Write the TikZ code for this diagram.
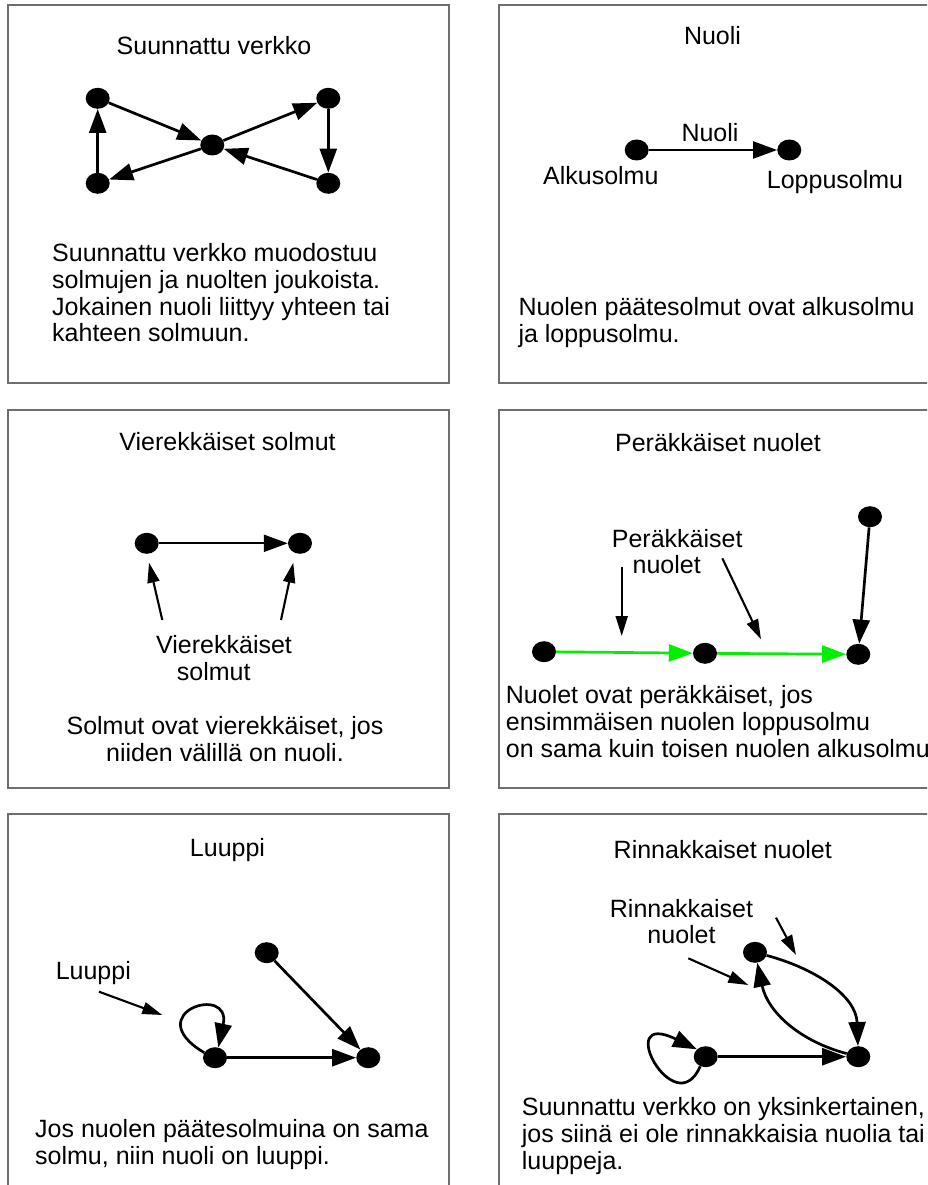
\documentclass[tikz,border=0pt]{standalone}
\usepackage{fontspec}
\setmainfont{Liberation Sans}
\usetikzlibrary{arrows.meta,shapes.geometric}
\definecolor{arcgreen}{RGB}{0,240,0}
\definecolor{framegray}{RGB}{110,110,110}
\begin{document}
\begin{tikzpicture}[x=1pt,y=-1pt,
  every node/.style={font=\fontsize{25}{26.8}\selectfont},
  vertex/.style={ellipse,fill=black,inner sep=0pt,minimum width=24pt,minimum height=21pt},
  panel/.style={draw=framegray,line width=1.3pt},
  arc/.style={line width=2.7pt,-{Triangle[length=24pt,width=17pt]}},
  greenarc/.style={arc,color=arcgreen},
  pointer/.style={line width=2.1pt,-{Triangle[length=20pt,width=12pt]}},
  title/.style={anchor=base,inner sep=0pt},
  body/.style={anchor=north west,align=left,inner sep=0pt},
  cbody/.style={anchor=north,align=center,inner sep=0pt},
  lbl/.style={anchor=base,inner sep=0pt}
]
\useasboundingbox (0,0) rectangle (927,1185);
\clip (0,0) rectangle (927,1185);
\fill[white] (0,0) rectangle (927,1185);

% ---------- frames ----------
\draw[panel] (8,5) rectangle (449,383);
\draw[panel] (499,5) rectangle (945,383);
\draw[panel] (8,410) rectangle (449,788);
\draw[panel] (499,410) rectangle (945,788);
\draw[panel] (8,814) rectangle (449,1200);
\draw[panel] (499,814) rectangle (945,1200);

% ---------- Suunnattu verkko ----------
\node[title] (t1) at (214,55) {Suunnattu verkko};
\node[vertex] (a1) at (97.7,98.3) {};
\node[vertex] (b1) at (97.7,183.3) {};
\node[vertex] (c1) at (212.3,145) {};
\node[vertex] (d1) at (328.3,98.3) {};
\node[vertex] (e1) at (328.3,183.3) {};
\draw[arc] (a1) -- (c1);
\draw[arc] (c1) -- (d1);
\draw[arc] (d1) -- (e1);
\draw[arc] (e1) -- (c1);
\draw[arc] (c1) -- (b1);
\draw[arc] (b1) -- (a1);
\node[body] (x1) at (52,243.1) {Suunnattu verkko muodostuu\\solmujen ja nuolten joukoista.\\Jokainen nuoli liittyy yhteen tai\\kahteen solmuun.};

% ---------- Nuoli ----------
\node[title] (t2) at (712.5,44.5) {Nuoli};
\node[vertex] (a2) at (636.7,150) {};
\node[vertex] (b2) at (789.3,150) {};
\draw[arc,line width=2.2pt] (a2) -- (b2);
\node[lbl] (l2) at (710,141.7) {Nuoli};
\node[lbl] (l2a) at (600.8,185) {Alkusolmu};
\node[lbl] (l2b) at (835,189) {Loppusolmu};
\node[body] (x2) at (518.3,297.1) {Nuolen päätesolmut ovat alkusolmu\\ja loppusolmu.};

% ---------- Vierekkäiset solmut ----------
\node[title] (t3) at (227.5,450) {Vierekkäiset solmut};
\node[vertex] (a3) at (146.7,543.3) {};
\node[vertex] (b3) at (300,543.3) {};
\draw[arc,line width=2.2pt] (a3) -- (b3);
\node[body] (l3) at (156,635.4) {Vierekkäiset\\\hspace*{20.7pt}solmut};
\coordinate (p3a) at (162.3,620);
\coordinate (q3a) at (149,562.7);
\coordinate (p3b) at (281,620);
\coordinate (q3b) at (293.3,562.7);
\draw[pointer] (p3a) -- (q3a);
\draw[pointer] (p3b) -- (q3b);
\node[cbody] (x3) at (225,716.4) {Solmut ovat vierekkäiset, jos\\niiden välillä on nuoli.};

% ---------- Peräkkäiset nuolet ----------
\node[title] (t4) at (718,451) {Peräkkäiset nuolet};
\node[vertex] (a4) at (544,651.7) {};
\node[vertex] (b4) at (705,653.3) {};
\node[vertex] (c4) at (858.3,654.3) {};
\node[vertex] (d4) at (870,516.7) {};
\draw[greenarc] (a4) -- (b4);
\draw[greenarc] (b4) -- (c4);
\draw[arc] (d4) -- (c4);
\node[body] (l4) at (611.7,528.8) {Peräkkäiset\\\hspace*{20.7pt}nuolet};
\coordinate (p4a) at (621.7,566.7);
\coordinate (q4a) at (621.7,636);
\coordinate (p4b) at (722.3,558.3);
\coordinate (q4b) at (761,639.3);
\draw[pointer] (p4a) -- (q4a);
\draw[pointer] (p4b) -- (q4b);
\node[body] (x4) at (505.7,685.4) {Nuolet ovat peräkkäiset, jos\\ensimmäisen nuolen loppusolmu\\on sama kuin toisen nuolen alkusolmu};

% ---------- Luuppi ----------
\node[title] (t5) at (227.5,856.7) {Luuppi};
\node[vertex] (a5) at (215,1057.7) {};
\node[vertex] (b5) at (368.3,1057.7) {};
\node[vertex] (c5) at (266.7,952.7) {};
\draw[arc] (a5) -- (b5);
\draw[arc] (c5) -- (b5);
\draw[arc] (a5.155) .. controls (138,1013) and (232,983) .. (a5.72);
\node[lbl] (l5) at (93.3,979) {Luuppi};
\coordinate (p5) at (99,991.7);
\coordinate (q5) at (162.3,1015);
\draw[pointer] (p5) -- (q5);
\node[body] (x5) at (35,1119.1) {Jos nuolen päätesolmuina on sama\\solmu, niin nuoli on luuppi.};

% ---------- Rinnakkaiset nuolet ----------
\node[title] (t6) at (722.8,858.3) {Rinnakkaiset nuolet};
\node[vertex] (a6) at (755,952.3) {};
\node[vertex] (b6) at (705.7,1056.7) {};
\node[vertex] (c6) at (858.3,1056.7) {};
\draw[arc] (b6) -- (c6);
\draw[arc] (a6) to[out=-15,in=92] (c6);
\draw[arc] (c6) to[out=165,in=-78] (a6);
\draw[arc] (b6.240) .. controls (675,1125) and (612,1008) .. (b6.140);
\node[cbody] (l6) at (681.5,898.8) {Rinnakkaiset\\nuolet};
\coordinate (p6a) at (688.3,958.3);
\coordinate (q6a) at (748.3,985);
\coordinate (p6b) at (776,917.7);
\coordinate (q6b) at (796,955);
\draw[pointer] (p6a) -- (q6a);
\draw[pointer] (p6b) -- (q6b);
\node[body] (x6) at (521.7,1097.1) {Suunnattu verkko on yksinkertainen,\\jos siinä ei ole rinnakkaisia nuolia tai\\luuppeja.};
\end{tikzpicture}
\end{document}
